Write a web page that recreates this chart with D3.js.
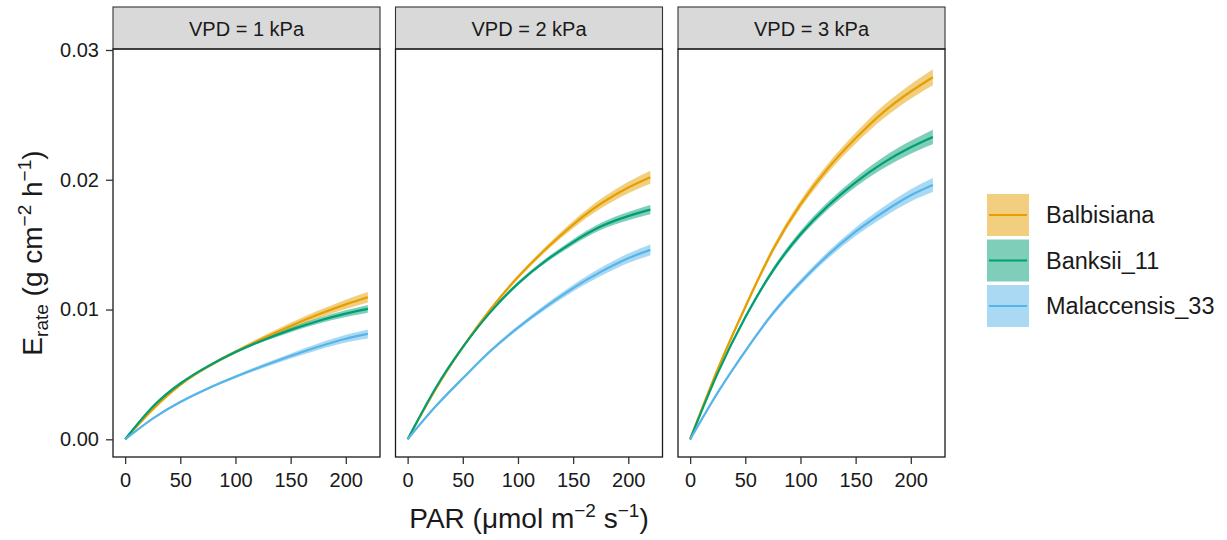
<!DOCTYPE html>
<html>
<head>
<meta charset="utf-8">
<script src="https://cdn.jsdelivr.net/npm/d3@7"></script>
<style>
  body { margin: 0; background: #fff; }
  svg { font-family: "Liberation Sans", Arial, sans-serif; }
</style>
</head>
<body>
<div id="chart"></div>
<script>
// PAR values where the fitted curves were read
var par = [0, 25, 50, 75, 100, 125, 150, 175, 200, 220];
var species = ["Balbisiana", "Banksii_11", "Malaccensis_33"];
var vpdLabels = ["VPD = 1 kPa", "VPD = 2 kPa", "VPD = 3 kPa"];
var xTicks = [0, 50, 100, 150, 200];
var yTicks = [0, 0.01, 0.02, 0.03];
var colors = ["#E69F00", "#009E73", "#56B4E9"];

// fitted E rate, one row per VPD (1, 2, 3 kPa)
var balbisianaRate = [
  [0, 0.0023, 0.0042, 0.0056, 0.00674, 0.00778, 0.00874, 0.00962, 0.0104, 0.01095],
  [0, 0.0038, 0.0071, 0.0100, 0.0125, 0.01465, 0.01655, 0.01815, 0.0194, 0.0202],
  [0, 0.0054, 0.0102, 0.0146, 0.0181, 0.0209, 0.0232, 0.0252, 0.0268, 0.0279]
];
var banksiiRate = [
  [0, 0.0025, 0.0043, 0.00562, 0.00672, 0.00764, 0.00843, 0.00912, 0.00968, 0.01005],
  [0, 0.0039, 0.0071, 0.0098, 0.0120, 0.01375, 0.0152, 0.0164, 0.0172, 0.0177],
  [0, 0.0051, 0.0094, 0.0130, 0.0158, 0.0180, 0.0198, 0.0213, 0.0225, 0.0233]
];
var malaccensisRate = [
  [0, 0.0016, 0.00288, 0.00392, 0.00482, 0.00565, 0.00642, 0.00713, 0.00775, 0.00812],
  [0, 0.0025, 0.0047, 0.0068, 0.0086, 0.0102, 0.01165, 0.0129, 0.01395, 0.0146],
  [0, 0.0036, 0.0068, 0.0097, 0.0121, 0.0142, 0.0160, 0.0175, 0.0188, 0.0196]
];

// half width of the confidence ribbons
var balbisianaSe = [
  [0, 0.0001, 0.00012, 0.00012, 0.00013, 0.00018, 0.00025, 0.0003, 0.00036, 0.0004],
  [0, 0.0001, 0.00012, 0.00014, 0.00016, 0.0002, 0.00028, 0.00036, 0.00044, 0.0005],
  [0, 0.00015, 0.0002, 0.00025, 0.0003, 0.00035, 0.00042, 0.0005, 0.00056, 0.00062]
];
var banksiiSe = [
  [0, 0.0001, 0.0001, 0.0001, 0.0001, 0.00013, 0.00018, 0.00022, 0.00026, 0.0003],
  [0, 0.0001, 0.0001, 0.00012, 0.00014, 0.00017, 0.00022, 0.00027, 0.00032, 0.00036],
  [0, 0.00012, 0.00016, 0.0002, 0.00025, 0.0003, 0.00036, 0.00044, 0.0005, 0.00056]
];
var malaccensisSe = [
  [0, 0.00008, 0.0001, 0.0001, 0.00012, 0.00016, 0.0002, 0.00025, 0.0003, 0.00035],
  [0, 0.0001, 0.00012, 0.00013, 0.00015, 0.0002, 0.00026, 0.00032, 0.00037, 0.00042],
  [0, 0.0001, 0.00014, 0.00018, 0.00022, 0.00027, 0.00033, 0.0004, 0.00047, 0.00054]
];

var rates = [balbisianaRate, banksiiRate, malaccensisRate];
var ses = [balbisianaSe, banksiiSe, malaccensisSe];

var width = 1227, height = 540;
var panelW = 267, gap = 15.5, left0 = 113;
var stripTop = 7, plotTop = 49, plotBottom = 457;

var svg = d3.select("#chart").append("svg")
  .attr("width", width)
  .attr("height", height);

var y = d3.scaleLinear()
  .domain([-0.001364, 0.030077])
  .range([plotBottom, plotTop]);

function seriesData(s, v) {
  return par.map(function (p, i) {
    return { x: p, y: rates[s][v][i], lo: rates[s][v][i] - ses[s][v][i], hi: rates[s][v][i] + ses[s][v][i] };
  });
}

for (var v = 0; v < 3; v++) {
  var px = left0 + v * (panelW + gap);
  var x = d3.scaleLinear().domain([-11, 231]).range([0, panelW]);

  var g = svg.append("g").attr("transform", "translate(" + px + ",0)");

  // strip
  g.append("rect")
    .attr("x", 0).attr("y", stripTop)
    .attr("width", panelW).attr("height", plotTop - stripTop)
    .attr("fill", "#D9D9D9")
    .attr("stroke", "#333")
    .attr("stroke-width", 1.1);
  g.append("text")
    .attr("x", panelW / 2).attr("y", 36)
    .attr("text-anchor", "middle")
    .style("font-size", "20px")
    .attr("fill", "#1a1a1a")
    .text(vpdLabels[v]);

  var area = d3.area()
    .x(function (d) { return x(d.x); })
    .y0(function (d) { return y(d.lo); })
    .y1(function (d) { return y(d.hi); })
    .curve(d3.curveNatural);

  var line = d3.line()
    .x(function (d) { return x(d.x); })
    .y(function (d) { return y(d.y); })
    .curve(d3.curveNatural);

  for (var s = 0; s < 3; s++) {
    g.append("path")
      .datum(seriesData(s, v))
      .attr("d", area)
      .attr("fill", colors[s])
      .attr("fill-opacity", 0.5);
  }
  for (var s2 = 0; s2 < 3; s2++) {
    g.append("path")
      .datum(seriesData(s2, v))
      .attr("d", line)
      .attr("fill", "none")
      .attr("stroke", colors[s2])
      .attr("stroke-width", 2.2);
  }

  // panel border
  g.append("rect")
    .attr("x", 0).attr("y", plotTop)
    .attr("width", panelW).attr("height", plotBottom - plotTop)
    .attr("fill", "none")
    .attr("stroke", "#1a1a1a")
    .attr("stroke-width", 1.3);

  var xAxis = g.append("g")
    .attr("transform", "translate(0," + plotBottom + ")")
    .call(d3.axisBottom(x).tickValues(xTicks).tickSize(7).tickPadding(9));
  xAxis.select(".domain").remove();
  xAxis.selectAll("line").attr("stroke", "#333").attr("stroke-width", 1.3);
  xAxis.selectAll("text").style("font-size", "20px").attr("fill", "#1a1a1a");

  if (v === 0) {
    var yAxis = g.append("g")
      .call(d3.axisLeft(y).tickValues(yTicks).tickSize(7).tickPadding(7)
        .tickFormat(d3.format(".2f")));
    yAxis.select(".domain").remove();
    yAxis.selectAll("line").attr("stroke", "#333").attr("stroke-width", 1.3);
    yAxis.selectAll("text").style("font-size", "20px").attr("fill", "#1a1a1a");
  }
}

// x title
var xt = svg.append("text")
  .attr("x", (left0 + left0 + 3 * panelW + 2 * gap) / 2)
  .attr("y", 528)
  .attr("text-anchor", "middle")
  .style("font-size", "28px")
  .attr("fill", "#1a1a1a");
xt.append("tspan").text("PAR (\u03bcmol m");
xt.append("tspan").attr("dy", -11).style("font-size", "19px").text("\u22122");
xt.append("tspan").attr("dy", 11).text(" s");
xt.append("tspan").attr("dy", -11).style("font-size", "19px").text("\u22121");
xt.append("tspan").attr("dy", 11).text(")");

// y title
var yt = svg.append("text")
  .attr("transform", "translate(42," + ((plotTop + plotBottom) / 2) + ") rotate(-90)")
  .attr("text-anchor", "middle")
  .style("font-size", "28px")
  .attr("fill", "#1a1a1a");
yt.append("tspan").text("E");
yt.append("tspan").attr("dy", 6).style("font-size", "19px").text("rate");
yt.append("tspan").attr("dy", -6).text(" (g cm");
yt.append("tspan").attr("dy", -11).style("font-size", "19px").text("\u22122");
yt.append("tspan").attr("dy", 11).text(" h");
yt.append("tspan").attr("dy", -11).style("font-size", "19px").text("\u22121");
yt.append("tspan").attr("dy", 11).text(")");

// legend
var legend = svg.append("g").attr("transform", "translate(987,194)");
species.forEach(function (name, i) {
  var row = legend.append("g").attr("transform", "translate(0," + (i * 45.5) + ")");
  row.append("rect")
    .attr("width", 42).attr("height", 42)
    .attr("fill", colors[i]).attr("fill-opacity", 0.5);
  row.append("line")
    .attr("x1", 2).attr("x2", 40)
    .attr("y1", 21).attr("y2", 21)
    .attr("stroke", colors[i]).attr("stroke-width", 2.2);
  row.append("text")
    .attr("x", 59).attr("y", 21)
    .attr("dy", "0.36em")
    .style("font-size", "23.5px")
    .attr("fill", "#1a1a1a")
    .text(name);
});
</script>
</body>
</html>
